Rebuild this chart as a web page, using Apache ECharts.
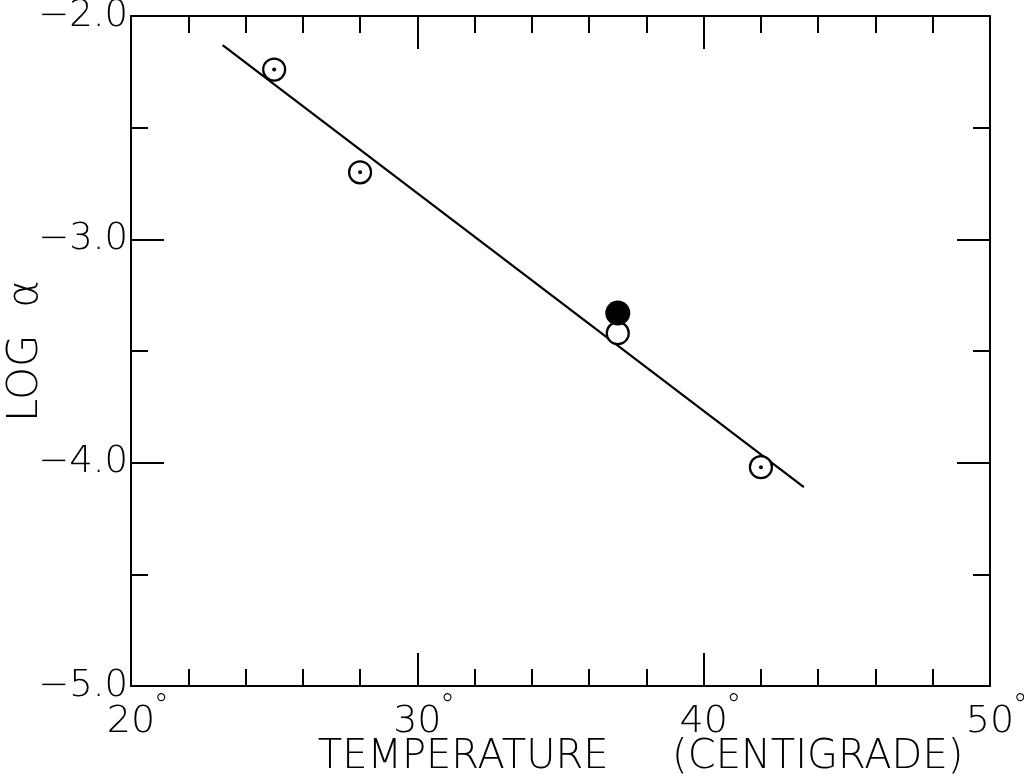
<!DOCTYPE html>
<html>
<head>
<meta charset="utf-8">
<script src="https://cdn.jsdelivr.net/npm/echarts@6/dist/echarts.min.js"></script>
<style>
  html, body { margin: 0; padding: 0; background: #fff; }
  #chart { width: 1024px; height: 776px; }
</style>
</head>
<body>
<div id="chart"></div>
<script>
// data
const dotTemps = [25, 28, 42];
const dotLogA = [-2.24, -2.70, -4.02];
const openTemps = [37];
const openLogA = [-3.42];
const filledTemps = [37];
const filledLogA = [-3.33];
// ends of the fitted line
const fitTemps = [23.2, 43.5];
const fitLogA = [-2.13, -4.11];

const FONT = 'DejaVu Sans';
const ink = '#000';

function pairs(xs, ys) {
  return xs.map((x, i) => [x, ys[i]]);
}

const chart = echarts.init(document.getElementById('chart'));

const tickStyle = { color: ink, width: 2 };

chart.setOption({
  animation: false,
  backgroundColor: '#fff',
  grid: { left: 131, right: 34, top: 16, bottom: 90, outerBoundsMode: 'none', containLabel: false },
  xAxis: [
    {
      type: 'value',
      min: 20,
      max: 50,
      interval: 10,
      position: 'bottom',
      axisLine: { lineStyle: { color: ink, width: 2 } },
      axisTick: { inside: true, length: 33, lineStyle: tickStyle },
      minorTick: { show: true, splitNumber: 5, length: 17, lineStyle: tickStyle },
      splitLine: { show: false },
      axisLabel: {
        margin: 6,
        formatter: v => '{p|}{n|' + v + '}{d|°}',
        rich: {
          p: { width: 12 },
          n: { fontFamily: FONT, fontSize: 38, fontWeight: 200, color: ink },
          d: { fontFamily: FONT, fontSize: 30, fontWeight: 200, color: ink, width: 12, padding: [0, 0, 30, 0] }
        }
      },
      name: 'TEMPERATURE     (CENTIGRADE)',
      nameLocation: 'middle',
      nameMoveOverlap: false,
      nameGap: 52,
      nameTextStyle: { fontFamily: FONT, fontSize: 40, fontWeight: 200, color: ink, padding: [0, 0, 0, 160] }
    },
    {
      type: 'value',
      min: 20,
      max: 50,
      interval: 10,
      position: 'top',
      axisLine: { lineStyle: { color: ink, width: 2 } },
      axisTick: { inside: true, length: 33, lineStyle: tickStyle },
      minorTick: { show: true, splitNumber: 5, length: 17, lineStyle: tickStyle },
      splitLine: { show: false },
      axisLabel: { show: false }
    }
  ],
  yAxis: [
    {
      type: 'value',
      min: -5,
      max: -2,
      interval: 1,
      position: 'left',
      axisLine: { lineStyle: { color: ink, width: 2 } },
      axisTick: { inside: true, length: 33, lineStyle: tickStyle },
      minorTick: { show: true, splitNumber: 2, length: 17, lineStyle: tickStyle },
      splitLine: { show: false },
      axisLabel: {
        margin: 3,
        fontFamily: FONT,
        fontSize: 37,
        fontWeight: 200,
        color: ink,
        formatter: v => '\u2212' + Math.abs(v).toFixed(1)
      },
      name: 'LOG  α',
      nameLocation: 'middle',
      nameMoveOverlap: false,
      nameGap: 84,
      nameRotate: 90,
      nameTextStyle: { fontFamily: FONT, fontSize: 42, fontWeight: 200, color: ink }
    },
    {
      type: 'value',
      min: -5,
      max: -2,
      interval: 1,
      position: 'right',
      axisLine: { lineStyle: { color: ink, width: 2 } },
      axisTick: { inside: true, length: 33, lineStyle: tickStyle },
      minorTick: { show: true, splitNumber: 2, length: 17, lineStyle: tickStyle },
      splitLine: { show: false },
      axisLabel: { show: false }
    }
  ],
  series: [
    {
      name: 'fit',
      type: 'line',
      data: pairs(fitTemps, fitLogA),
      symbol: 'none',
      lineStyle: { color: ink, width: 2.2 },
      z: 2
    },
    {
      name: 'open',
      type: 'scatter',
      data: pairs(dotTemps.concat(openTemps), dotLogA.concat(openLogA)),
      symbol: 'circle',
      symbolSize: 22,
      itemStyle: { color: '#fff', borderColor: ink, borderWidth: 2.2, opacity: 1 },
      z: 3
    },
    {
      name: 'centre',
      type: 'scatter',
      data: pairs(dotTemps, dotLogA),
      symbol: 'circle',
      symbolSize: 4,
      itemStyle: { color: ink, opacity: 1 },
      z: 4
    },
    {
      name: 'filled',
      type: 'scatter',
      data: pairs(filledTemps, filledLogA),
      symbol: 'circle',
      symbolSize: 25,
      itemStyle: { color: ink, opacity: 1 },
      z: 5
    }
  ]
});
</script>
</body>
</html>
